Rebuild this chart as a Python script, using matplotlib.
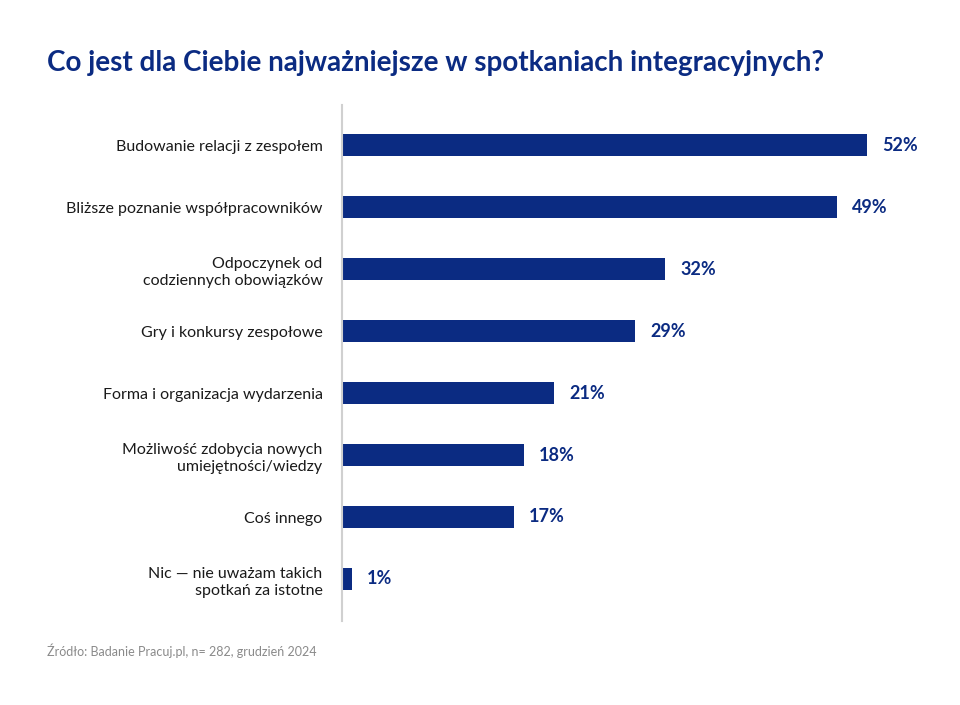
import matplotlib
matplotlib.use("Agg")
import matplotlib.pyplot as plt

plt.rcParams['font.family'] = ['Lato', 'DejaVu Sans']

categories = [
    "Budowanie relacji z zespołem",
    "Bliższe poznanie współpracowników",
    "Odpoczynek od\ncodziennych obowiązków",
    "Gry i konkursy zespołowe",
    "Forma i organizacja wydarzenia",
    "Możliwość zdobycia nowych\numiejętności/wiedzy",
    "Coś innego",
    "Nic — nie uważam takich\nspotkań za istotne",
]
values = [52, 49, 32, 29, 21, 18, 17, 1]

navy = "#0b2b82"

fig = plt.figure(figsize=(9.6, 7.05), dpi=100)
ax = fig.add_axes([342 / 960, 1 - 621 / 705, 600 / 960, (621 - 105) / 705])

pos = list(range(len(values)))
ax.barh(pos, values, height=0.355, color=navy)
ax.set_ylim(7 + 42 / 62, -40 / 62)
ax.set_xlim(0, 600 / 10.1)

for p, v in zip(pos, values):
    ax.text(v + 1.5, p, f"{v}%", va="center", ha="left", fontsize=13,
            fontweight="bold", color=navy)

ax.set_yticks(pos)
ax.set_yticklabels(categories, fontsize=11.5, color="#1a1a1a", linespacing=1.35)
ax.tick_params(axis="y", length=0, pad=14)
ax.set_xticks([])
for s in ["top", "right", "bottom"]:
    ax.spines[s].set_visible(False)
ax.spines["left"].set_color("#d0d0d0")
ax.spines["left"].set_linewidth(1.5)

fig.text(47 / 960, 1 - 63 / 705, "Co jest dla Ciebie najważniejsze w spotkaniach integracyjnych?",
         fontsize=20, fontweight="bold", color=navy, va="center", ha="left")
fig.text(47 / 960, 1 - 651 / 705, "Źródło: Badanie Pracuj.pl, n= 282, grudzień 2024",
         fontsize=9, color="#8a8a8a", va="center", ha="left")

fig.savefig("out.png", dpi=100)
plt.close(fig)
